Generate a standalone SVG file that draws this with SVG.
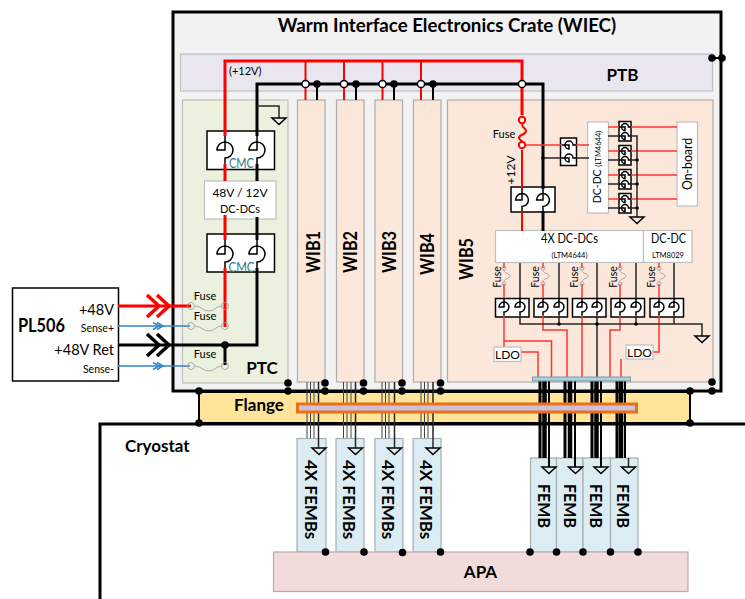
<svg xmlns="http://www.w3.org/2000/svg" xmlns:xlink="http://www.w3.org/1999/xlink" width="745" height="599" viewBox="0 0 745 599">
<style>
text{font-family:Lato,"Liberation Sans",sans-serif;fill:#000}
.b{font-weight:700}
.m{text-anchor:middle}
.e{text-anchor:end}
.pn{stroke:#bfbfbf;stroke-width:1.2}
.wib{fill:#fbe8da;stroke:#b0aca8;stroke-width:1.2}
.fm{fill:#dbedf3;stroke:#a4b0b4;stroke-width:1.2}
.wb{fill:#fff;stroke:#bfbfbf;stroke-width:1.2}
.bx{fill:#fff;stroke:#000;stroke-width:1.5}
.r3{fill:none;stroke:#f00;stroke-width:3}
.r2{fill:none;stroke:#f00;stroke-width:2}
.r1{fill:none;stroke:#f33;stroke-width:1.5}
.k3{fill:none;stroke:#000;stroke-width:3}
.k2{fill:none;stroke:#000;stroke-width:2}
.k1{fill:none;stroke:#262626;stroke-width:1.5}
.t{fill:none;stroke:#444;stroke-width:1}
.bl{fill:none;stroke:#2e86c8;stroke-width:1.5}
.fu{fill:none;stroke:#999;stroke-width:.8}
.cs{stroke:#000;stroke-width:1.5;vector-effect:non-scaling-stroke}
</style>
<defs>
<g id="ch"><path class="cs" d="M0,-14V-8A8,8 0 0 1 0,8V14" fill="none"/><path class="cs" d="M0,-8A8,8 0 0 0 -8,0H0Z" fill="#fff"/></g>
<g id="fh"><circle cx="0" cy="0" r="3.5" class="fu"/><circle cx="34" cy="0" r="3.5" class="fu"/><path d="M3.500,0C10,0 12,5 18,5C24,5 25,0 30.500,0" class="fu"/></g>
<g id="fv"><circle cx="0" cy="0" r="2" class="fu"/><circle cx="0" cy="16" r="2" class="fu"/><path d="M0,2C0,6 6,5 6,8C6,11 0,10 0,14" class="fu"/></g>
<path id="gnd" d="M-7,0H7L0,6.500Z" fill="none" stroke="#000" stroke-width="1.500"/>
<path id="chv" d="M0,-11L12,0L0,11M10,-11L22,0L10,11" fill="none" stroke-width="3.500"/>
<circle id="dot" r="3.800" fill="#000"/>
<circle id="opn" r="3.600" fill="#fff" stroke="#000" stroke-width="1.500"/>
</defs>

<g id="wiec"><rect x="173" y="12" width="548" height="379" fill="#f2f2f2" stroke="#000" stroke-width="3"/><text x="447" y="32" class="b m" font-size="18.700">Warm Interface Electronics Crate (WIEC)</text></g>
<g id="ptb"><rect x="180.500" y="54" width="532" height="37" fill="#e9e6ef" class="pn"/><text x="622.500" y="80.500" class="b m" font-size="17">PTB</text><text x="229" y="75" font-size="11">(+12V)</text></g>
<g id="ptc"><rect x="182.500" y="100" width="105.500" height="283" fill="#ebf1de" class="pn"/></g>
<g id="wib1"><rect x="297.500" y="100" width="27.500" height="282" class="wib"/><text transform="translate(320,252) rotate(-90)" class="m" font-size="18.500" textLength="42" lengthAdjust="spacingAndGlyphs" font-weight="700">WIB1</text></g>
<g id="wib2"><rect x="336.500" y="100" width="27.500" height="282" class="wib"/><text transform="translate(357,252) rotate(-90)" class="m" font-size="18.500" textLength="42" lengthAdjust="spacingAndGlyphs" font-weight="700">WIB2</text></g>
<g id="wib3"><rect x="375" y="100" width="27.500" height="282" class="wib"/><text transform="translate(395.500,252) rotate(-90)" class="m" font-size="18.500" textLength="42" lengthAdjust="spacingAndGlyphs" font-weight="700">WIB3</text></g>
<g id="wib4"><rect x="413.500" y="100" width="27.500" height="282" class="wib"/><text transform="translate(433.500,254) rotate(-90)" class="m" font-size="18.500" textLength="42" lengthAdjust="spacingAndGlyphs" font-weight="700">WIB4</text></g>
<g id="wib5"><rect x="447.500" y="100" width="265.500" height="282" class="wib"/><text transform="translate(473,259) rotate(-90)" class="m" font-size="18.500" textLength="42" lengthAdjust="spacingAndGlyphs" font-weight="700">WIB5</text></g>
<g id="flange"><rect x="199" y="392" width="491" height="31" fill="#ffe499" stroke="#000" stroke-width="2"/><text x="259" y="411" class="b m" font-size="17">Flange</text></g>
<g id="cryostat"><path d="M100,599V424H745" fill="none" stroke="#000" stroke-width="3"/><text x="125" y="452" class="b" font-size="17">Cryostat</text></g>
<g id="femb-w1"><rect x="297" y="438.500" width="29" height="113.500" class="fm"/><text transform="translate(305,499.500) rotate(90)" class="b m" font-size="17">4X FEMBs</text></g>
<g id="femb-w2"><rect x="336" y="438.500" width="28" height="113.500" class="fm"/><text transform="translate(343,499.500) rotate(90)" class="b m" font-size="17">4X FEMBs</text></g>
<g id="femb-w3"><rect x="375" y="438.500" width="28" height="113.500" class="fm"/><text transform="translate(382,499.500) rotate(90)" class="b m" font-size="17">4X FEMBs</text></g>
<g id="femb-w4"><rect x="413" y="438.500" width="28" height="113.500" class="fm"/><text transform="translate(420,499.500) rotate(90)" class="b m" font-size="17">4X FEMBs</text></g>
<g id="femb1"><rect x="530.500" y="458" width="26" height="94" class="fm"/><text transform="translate(538,506) rotate(90)" class="m" font-size="17.500" textLength="44" lengthAdjust="spacingAndGlyphs" font-weight="700">FEMB</text></g>
<g id="femb2"><rect x="556.500" y="458" width="26.500" height="94" class="fm"/><text transform="translate(564,506) rotate(90)" class="m" font-size="17.500" textLength="44" lengthAdjust="spacingAndGlyphs" font-weight="700">FEMB</text></g>
<g id="femb3"><rect x="583" y="458" width="27.500" height="94" class="fm"/><text transform="translate(590,506) rotate(90)" class="m" font-size="17.500" textLength="44" lengthAdjust="spacingAndGlyphs" font-weight="700">FEMB</text></g>
<g id="femb4"><rect x="610.500" y="458" width="27.500" height="94" class="fm"/><text transform="translate(617,506) rotate(90)" class="m" font-size="17.500" textLength="44" lengthAdjust="spacingAndGlyphs" font-weight="700">FEMB</text></g>
<g id="apa"><rect x="273.500" y="552" width="414.500" height="39.500" fill="#f2dcdb" stroke="#bfa9a8" stroke-width="1.200"/><text x="480.500" y="578" class="b m" font-size="17">APA</text></g>
<g id="pl506"><rect x="12.500" y="288" width="106" height="93" fill="#fff" stroke="#000" stroke-width="1.500"/><text x="18" y="332" class="b" font-size="18" textLength="47" lengthAdjust="spacingAndGlyphs">PL506</text><text x="114" y="314.500" class="e" font-size="14.500">+48V</text><text x="114" y="332" class="e" font-size="10.500">Sense+</text><text x="114" y="355" class="e" font-size="14.500">+48V Ret</text><text x="114" y="373" class="e" font-size="10.500">Sense-</text></g>

<g id="boxes-ptc">
<rect x="207" y="131" width="67.500" height="38.500" class="bx"/>
<rect x="207" y="234" width="67.500" height="38" class="bx"/>
<rect x="204.500" y="181" width="71.500" height="38" class="wb"/>
</g>
<g id="boxes-wib5">
<rect x="511" y="187" width="44" height="25" class="bx"/>
<rect x="560.500" y="138" width="16" height="27.500" class="bx"/>
<rect x="587.500" y="122" width="21" height="91" class="wb"/>
<rect x="619" y="121.500" width="12" height="19.500" class="bx"/>
<rect x="619" y="145.500" width="12" height="19.500" class="bx"/>
<rect x="619" y="169.500" width="12" height="19.500" class="bx"/>
<rect x="619" y="193.500" width="12" height="19.500" class="bx"/>
<rect x="677" y="122" width="20.500" height="84" class="wb"/>
<rect x="495.500" y="230.500" width="148" height="32" class="wb"/>
<rect x="643.500" y="230.500" width="48.500" height="32" class="wb"/>
<rect x="495.500" y="298.500" width="33.500" height="18.500" class="bx"/>
<rect x="534" y="298.500" width="33.500" height="18.500" class="bx"/>
<rect x="572.500" y="298.500" width="33.500" height="18.500" class="bx"/>
<rect x="611" y="298.500" width="33.500" height="18.500" class="bx"/>
<rect x="650" y="298.500" width="33.500" height="18.500" class="bx"/>
</g>

<g id="connectors">
<path class="r3" d="M225,136V61H522V115"/>
<path class="r2" d="M305.500,61V100M344,61V100M382.500,61V100M421,61V100"/>
<path class="k3" d="M257,136V84H543V189M543,211V231"/>
<path class="k2" d="M317,84V100M356,84V100M394,84V100M433,84V100"/>
<path class="k1" d="M257,106H279V118"/>
<path class="r3" d="M225,164V181M225,215V240M225,268V327"/>
<path class="k3" d="M257,164V181M257,217V240M257,268V345H118M225,345V365"/>
<path class="r3" d="M118,306H191"/>
<path class="bl" d="M118,326H190M118,366H190"/>
<use xlink:href="#chv" x="147" y="306" stroke="#f00"/>
<use xlink:href="#chv" x="147" y="345" stroke="#000"/>
<path d="M153,322.500L159,326L153,329.500M157,322.500L163,326L157,329.500M153,362.500L159,366L153,369.500M157,362.500L163,366L157,369.500" class="bl"/>
<path class="r2" d="M522,150V189M522,211V231"/>
<path d="M522,145H562.500M575.500,145H589" class="r1"/>
<path d="M543,158H562.500M575.500,158H589" class="k1"/>
<path class="r1" d="M608,127H619M631,127H677M608,151H619M631,151H677M608,175H619M631,175H677M608,199H619M631,199H677"/>
<path class="k1" d="M608,136H619M631,136H637V217M608,160H619M631,160H637M608,184H619M631,184H637M608,208H619M631,208H637"/>
<path class="r1" d="M504,263V268M504,284V298M504,316V347M504,341H551.500V377M521,352H538V377M543,263V268M543,284V298M543,316V330H567V377M582,263V268M582,284V298M582,316V377M620,263V268M620,284V298M620,316V330H610V377M659,263V268M659,284V298M659,316V352H653M621,359V377"/>
<path class="k1" d="M520,263V298M520,316V324H702V336M559,263V298M559,316V324M597,263V298M597,316V377M636,263V298M636,316V324M674,263V298M674,316V324"/>
<path class="t" d="M307,382V438M310.500,382V438M314,382V438M343.500,382V438M347,382V438M351,382V438M382,382V438M385.500,382V438M389,382V438M421,382V438M424.500,382V438M428,382V438"/>
<path class="k1" d="M318.500,382V448M355.500,382V448M394.500,382V448M433,382V448"/>
<g id="bundles">
<path class="k3" d="M540,378V458M565,378V458M592,378V458M617,378V458"/>
<path stroke="#000" stroke-width="4.500" fill="none" d="M544.500,378V458M570,378V458M596.500,378V458M621,378V458"/>
<path class="k2" d="M549,378V467M575,378V467M601,378V467M625,378V458"/>
<path class="k1" d="M628.500,458V467"/>
</g>
</g>
<g id="flange-bar"><rect x="297.500" y="404" width="339" height="8" fill="#ccc0da" stroke="#ec7116" stroke-width="3"/></g>
<g id="wib5-connector"><rect x="532.500" y="377" width="98" height="4" fill="#abd0e0" stroke="#7f97a3" stroke-width="1"/></g>

<g id="marks">
<use xlink:href="#gnd" x="279" y="118"/>
<use xlink:href="#gnd" x="637" y="217"/>
<use xlink:href="#gnd" x="702" y="336"/>
<use xlink:href="#gnd" x="319" y="448"/><use xlink:href="#gnd" x="355.500" y="448"/><use xlink:href="#gnd" x="394.500" y="448"/><use xlink:href="#gnd" x="433" y="448"/>
<use xlink:href="#gnd" x="549" y="467"/><use xlink:href="#gnd" x="575.500" y="467"/><use xlink:href="#gnd" x="601" y="467"/><use xlink:href="#gnd" x="628.500" y="467"/>
<use xlink:href="#opn" x="305.500" y="84"/><use xlink:href="#opn" x="344" y="84"/><use xlink:href="#opn" x="382.500" y="84"/><use xlink:href="#opn" x="421" y="84"/><use xlink:href="#opn" x="522" y="84"/>
<use xlink:href="#dot" x="317" y="84"/><use xlink:href="#dot" x="356" y="84"/><use xlink:href="#dot" x="394" y="84"/><use xlink:href="#dot" x="433" y="84"/>
<use xlink:href="#dot" x="225" y="345"/>
<use xlink:href="#dot" x="199" y="391"/><use xlink:href="#dot" x="199" y="423"/>
<use xlink:href="#dot" x="288" y="383"/><use xlink:href="#dot" x="288" y="391"/><use xlink:href="#dot" x="325" y="383"/><use xlink:href="#dot" x="325" y="391"/><use xlink:href="#dot" x="363.500" y="383"/><use xlink:href="#dot" x="363.500" y="391"/><use xlink:href="#dot" x="402" y="383"/><use xlink:href="#dot" x="402" y="391"/><use xlink:href="#dot" x="440.500" y="383"/><use xlink:href="#dot" x="440.500" y="391"/>
<use xlink:href="#dot" x="712" y="382"/><use xlink:href="#dot" x="712" y="391"/><use xlink:href="#dot" x="690" y="391"/><use xlink:href="#dot" x="690" y="423"/>
<use xlink:href="#dot" x="712" y="58"/><use xlink:href="#dot" x="722" y="58"/><path d="M712,58H722" stroke="#000" stroke-width="2"/>
<use xlink:href="#dot" x="325.500" y="552"/><use xlink:href="#dot" x="364" y="552"/><use xlink:href="#dot" x="402.500" y="552.500"/><use xlink:href="#dot" x="440.500" y="552"/>
<use xlink:href="#dot" x="530" y="552"/><use xlink:href="#dot" x="556.500" y="552"/><use xlink:href="#dot" x="583" y="552"/><use xlink:href="#dot" x="610.500" y="552"/><use xlink:href="#dot" x="638" y="552"/>
<circle cx="543" cy="158" r="1.800" fill="#000"/>
<circle cx="637" cy="160" r="1.800" fill="#000"/><circle cx="637" cy="184" r="1.800" fill="#000"/><circle cx="637" cy="208" r="1.800" fill="#000"/>
<circle cx="559" cy="324" r="1.800" fill="#000"/><circle cx="597" cy="324" r="1.800" fill="#000"/><circle cx="636" cy="324" r="1.800" fill="#000"/>
</g>

<g id="chokes">
<use xlink:href="#ch" x="225" y="150"/><use xlink:href="#ch" x="257" y="150"/>
<use xlink:href="#ch" x="225" y="254"/><use xlink:href="#ch" x="257" y="254"/>
<use xlink:href="#ch" transform="translate(522,200) scale(.8)"/><use xlink:href="#ch" transform="translate(543,200) scale(.8)"/>
<use xlink:href="#ch" transform="translate(504,307) scale(.62)"/><use xlink:href="#ch" transform="translate(520,307) scale(.62)"/>
<use xlink:href="#ch" transform="translate(543,307) scale(.62)"/><use xlink:href="#ch" transform="translate(559,307) scale(.62)"/>
<use xlink:href="#ch" transform="translate(582,307) scale(.62)"/><use xlink:href="#ch" transform="translate(597,307) scale(.62)"/>
<use xlink:href="#ch" transform="translate(620,307) scale(.62)"/><use xlink:href="#ch" transform="translate(636,307) scale(.62)"/>
<use xlink:href="#ch" transform="translate(659,307) scale(.62)"/><use xlink:href="#ch" transform="translate(674,307) scale(.62)"/>
<use xlink:href="#ch" transform="translate(569,145) rotate(-90) scale(.5)"/><use xlink:href="#ch" transform="translate(569,158) rotate(-90) scale(.5)"/>
<use xlink:href="#ch" transform="translate(625,127) rotate(-90) scale(.43)"/><use xlink:href="#ch" transform="translate(625,136) rotate(-90) scale(.43)"/>
<use xlink:href="#ch" transform="translate(625,151) rotate(-90) scale(.43)"/><use xlink:href="#ch" transform="translate(625,160) rotate(-90) scale(.43)"/>
<use xlink:href="#ch" transform="translate(625,175) rotate(-90) scale(.43)"/><use xlink:href="#ch" transform="translate(625,184) rotate(-90) scale(.43)"/>
<use xlink:href="#ch" transform="translate(625,199) rotate(-90) scale(.43)"/><use xlink:href="#ch" transform="translate(625,208) rotate(-90) scale(.43)"/>
</g>

<g id="fuses">
<use xlink:href="#fh" x="191" y="306"/><use xlink:href="#fh" x="191" y="326"/><use xlink:href="#fh" x="191" y="366"/>
<use xlink:href="#fv" x="504" y="268"/><use xlink:href="#fv" x="543" y="268"/><use xlink:href="#fv" x="582" y="268"/><use xlink:href="#fv" x="620" y="268"/><use xlink:href="#fv" x="659" y="268"/>
<circle cx="522" cy="120" r="3.200" fill="#fff" stroke="#f00" stroke-width="2"/><circle cx="522" cy="145" r="3.200" fill="#fff" stroke="#f00" stroke-width="2"/>
<path d="M522,123C522,129 526,128 526,131C526,135 519,134 519,138C519,140 522,140 522,142" fill="none" stroke="#f00" stroke-width="2"/>
</g>

<g id="ldo1"><rect x="494" y="347" width="27" height="14.500" class="wb"/><text x="507.500" y="358.500" class="m" font-size="12">LDO</text></g>
<g id="ldo2"><rect x="626" y="345" width="27" height="14" class="wb"/><text x="639.500" y="356.500" class="m" font-size="12">LDO</text></g>

<g id="labels">
<text x="241.500" y="168" class="m" font-size="13.500" textLength="25" lengthAdjust="spacingAndGlyphs" style="fill:#31748c">CMC</text>
<text x="241.500" y="271.500" class="m" font-size="13.500" textLength="26" lengthAdjust="spacingAndGlyphs" style="fill:#31748c">CMC</text>
<text x="240" y="197" class="m" font-size="12">48V / 12V</text>
<text x="240" y="213" class="m" font-size="12" textLength="40" lengthAdjust="spacingAndGlyphs">DC-DCs</text>
<text x="205" y="300" class="m" font-size="11">Fuse</text><text x="205" y="320" class="m" font-size="11">Fuse</text><text x="205" y="358" class="m" font-size="11">Fuse</text>
<text x="262" y="374" class="b m" font-size="17">PTC</text>
<text x="504" y="138" class="m" font-size="11">Fuse</text>
<text transform="translate(515,170) rotate(-90)" class="m" font-size="12">+12V</text>
<text transform="translate(600.500,167) rotate(-90)" class="m" font-size="10.500">DC-DC <tspan font-size="7.500">(LTM4644)</tspan></text>
<text transform="translate(692,164) rotate(-90)" class="m" font-size="14" textLength="52" lengthAdjust="spacingAndGlyphs">On-board</text>
<text x="569.500" y="243" class="m" font-size="13" textLength="57" lengthAdjust="spacingAndGlyphs">4X DC-DCs</text>
<text x="569.500" y="258" class="m" font-size="7.500">(LTM4644)</text>
<text x="668.500" y="243" class="m" font-size="13" textLength="35" lengthAdjust="spacingAndGlyphs">DC-DC</text>
<text x="668" y="258" class="m" font-size="7.500">LTM8029</text>
<text transform="translate(501,277) rotate(-90)" class="m" font-size="10.500">Fuse</text>
<text transform="translate(539,277) rotate(-90)" class="m" font-size="10.500">Fuse</text>
<text transform="translate(578,277) rotate(-90)" class="m" font-size="10.500">Fuse</text>
<text transform="translate(617,277) rotate(-90)" class="m" font-size="10.500">Fuse</text>
<text transform="translate(655,277) rotate(-90)" class="m" font-size="10.500">Fuse</text>
</g>
</svg>
